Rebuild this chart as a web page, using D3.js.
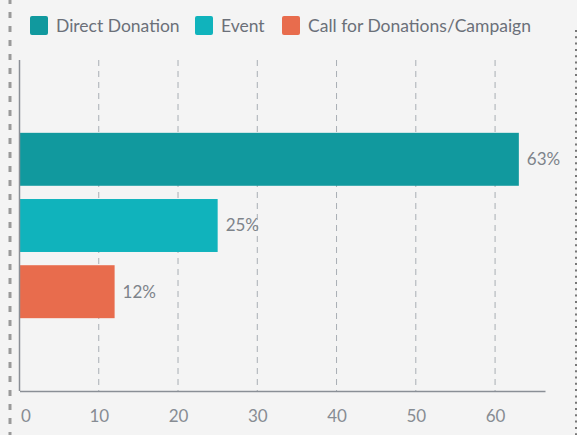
<!DOCTYPE html>
<html>
<head>
<meta charset="utf-8">
<script src="https://cdn.jsdelivr.net/npm/d3@7"></script>
<style>
  html, body { margin: 0; padding: 0; background: #f4f4f4; }
  body { width: 577px; height: 435px; overflow: hidden; font-family: Lato, "Open Sans", sans-serif; }
</style>
</head>
<body>
<script>
const categories = ["Direct Donation", "Event", "Call for Donations/Campaign"];
const values = [63, 25, 12];
const colors = ["#11999e", "#10b3bc", "#e86c4d"];
const tickValues = [0, 10, 20, 30, 40, 50, 60];

const W = 577, H = 435;
const plot = { left: 19.5, right: 545, top: 60, bottom: 391 };

const svg = d3.select("body").append("svg")
  .attr("width", W)
  .attr("height", H);

// frame edges
svg.append("line")
  .attr("x1", 10).attr("x2", 10).attr("y1", -2).attr("y2", H)
  .attr("stroke", "#9a9a9a").attr("stroke-width", 3)
  .attr("stroke-dasharray", "6,8");
svg.append("line")
  .attr("x1", 576).attr("x2", 576).attr("y1", 30).attr("y2", H)
  .attr("stroke", "#777").attr("stroke-width", 2)
  .attr("stroke-dasharray", "2,4.3");

const x = d3.scaleLinear().domain([0, 66.3]).range([plot.left, plot.right]);
const y = d3.scaleBand().domain(categories)
  .range([plot.top, plot.bottom])
  .paddingInner(0.2).paddingOuter(1.1);

// grid
svg.append("g")
  .selectAll("line")
  .data(tickValues.slice(1))
  .join("line")
  .attr("x1", d => x(d)).attr("x2", d => x(d))
  .attr("y1", plot.top).attr("y2", plot.bottom)
  .attr("stroke", "#a9aeb4").attr("stroke-width", 1)
  .attr("stroke-dasharray", "6,5");

// bars
svg.append("g")
  .selectAll("rect")
  .data(values)
  .join("rect")
  .attr("x", x(0))
  .attr("y", (d, i) => y(categories[i]))
  .attr("width", d => x(d) - x(0))
  .attr("height", y.bandwidth())
  .attr("fill", (d, i) => colors[i]);

svg.append("g")
  .selectAll("text")
  .data(values)
  .join("text")
  .attr("x", d => x(d) + 8)
  .attr("y", (d, i) => y(categories[i]) + y.bandwidth() / 2)
  .attr("dy", "0.35em")
  .attr("fill", "#7d838a")
  .style("font-size", "17px")
  .text(d => d + "%");

// axes
const xAxis = d3.axisBottom(x).tickValues(tickValues).tickSize(0).tickPadding(19);
const gx = svg.append("g")
  .attr("transform", `translate(0,${plot.bottom})`)
  .call(xAxis);
gx.select(".domain").attr("stroke", "#8a8f96").attr("stroke-width", 1.5);
gx.selectAll("text")
  .attr("fill", "#878c93")
  .style("font-size", "17px")
  .style("font-family", "Lato, sans-serif");
gx.selectAll(".tick").filter(d => d === 0).select("text")
  .attr("text-anchor", "start").attr("x", 1);

svg.append("line")
  .attr("x1", x(0)).attr("x2", x(0))
  .attr("y1", plot.top).attr("y2", plot.bottom)
  .attr("stroke", "#8a8f96").attr("stroke-width", 1.5);

// legend
const legendX = [30, 195, 282];
const legend = svg.append("g");
const items = legend.selectAll("g")
  .data(categories)
  .join("g")
  .attr("transform", (d, i) => `translate(${legendX[i]},16)`);
items.append("rect")
  .attr("width", 18).attr("height", 19).attr("rx", 2)
  .attr("fill", (d, i) => colors[i]);
items.append("text")
  .attr("x", 26).attr("y", 16)
  .attr("fill", "#6b7079")
  .style("font-size", "17.5px")
  .text(d => d);
</script>
</body>
</html>
